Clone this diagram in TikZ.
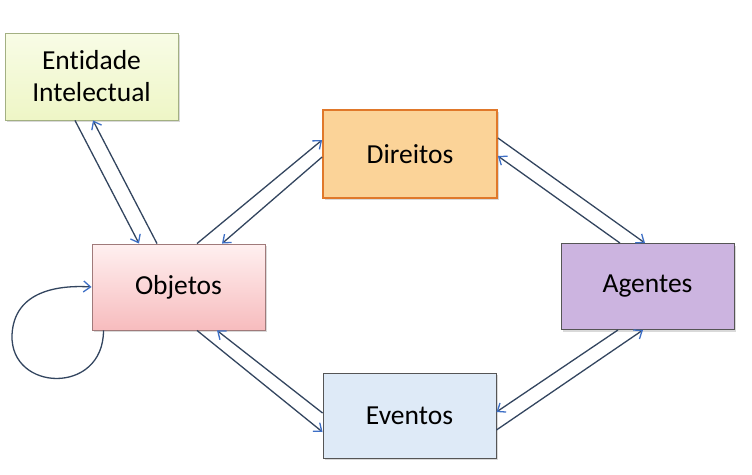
\documentclass[tikz,border=0pt]{standalone}
\usepackage{fontspec}
\setmainfont{Carlito}[Ligatures=NoCommon]
\usetikzlibrary{arrows.meta,shadows}
\definecolor{linkcol}{HTML}{33455F}
\definecolor{tipcol}{HTML}{3D6FC6}
\definecolor{entfill}{HTML}{EEF6C6}
\definecolor{enttop}{HTML}{F8FCE6}
\definecolor{entline}{HTML}{A3B082}
\definecolor{dirfill}{HTML}{FBD398}
\definecolor{dirline}{HTML}{E0782A}
\definecolor{objtop}{HTML}{FFF0F0}
\definecolor{objbot}{HTML}{F7BCBE}
\definecolor{objline}{HTML}{A07A7A}
\definecolor{agefill}{HTML}{CCB4E0}
\definecolor{evefill}{HTML}{DEEAF7}
\definecolor{boxline}{HTML}{555555}
\begin{document}
\begin{tikzpicture}[x=1pt,y=-1pt,
  box/.style={draw, line width=0.9pt, minimum width=173pt, minimum height=86pt,
    inner sep=0pt, align=center, font=\fontsize{27.5}{32}\selectfont,
    drop shadow={opacity=0.3, shadow xshift=2pt, shadow yshift=-2pt}},
  link/.style={draw=linkcol, line width=1.3pt,
    -{Straight Barb[length=7pt,width=11pt,line width=1.3pt,color=tipcol]}}]
  \useasboundingbox (0,0) rectangle (752,474);
  % boxes
  \node[box, draw=entline, top color=enttop, bottom color=entfill,
        minimum height=87pt] (ent) at (91.5,76.5) {Entidade\\Intelectual};
  \node[box, draw=dirline, line width=1.8pt, fill=dirfill,
        minimum width=174pt, minimum height=88pt] (dir) at (410,154) {Direitos};
  \node[box, draw=objline, top color=objtop, bottom color=objbot] (obj) at (178.5,287) {Objetos};
  \node[box, draw=boxline, fill=agefill] (age) at (647.5,286.5) {Agentes};
  \node[box, draw=boxline, fill=evefill, minimum height=85pt] (eve) at (409.5,415.5) {Eventos};
  % Entidade Intelectual <-> Objetos
  \draw[link] ([xshift=-21.5pt]obj.north) -- ([xshift=1.5pt]ent.south);
  \draw[link] ([xshift=-16.5pt]ent.south) -- ([xshift=-39.5pt]obj.north);
  % Objetos <-> Direitos
  \draw[link] ([xshift=18.5pt]obj.north) -- ([yshift=14pt]dir.west);
  \draw[link] ([yshift=-3pt]dir.west) -- ([xshift=43.5pt]obj.north);
  % Direitos <-> Agentes
  \draw[link] ([yshift=16pt]dir.east) -- ([xshift=-2.5pt]age.north);
  \draw[link] ([xshift=-27.5pt]age.north) -- ([yshift=-2pt]dir.east);
  % Agentes <-> Eventos
  \draw[link] ([yshift=-14.5pt]eve.east) -- ([xshift=-4.5pt]age.south);
  \draw[link] ([xshift=-29.5pt]age.south) -- ([yshift=3.5pt]eve.east);
  % Eventos <-> Objetos
  \draw[link] ([xshift=18.5pt]obj.south) -- ([yshift=-16.5pt]eve.west);
  \draw[link] ([yshift=2.5pt]eve.west) -- ([xshift=38.5pt]obj.south);
  % Objetos self loop
  \draw[link] ([xshift=-75pt]obj.south) .. controls +(0,65) and (10,392) .. (12,335)
        .. controls (14,290) and (60,285) .. (obj.west);
\end{tikzpicture}
\end{document}
